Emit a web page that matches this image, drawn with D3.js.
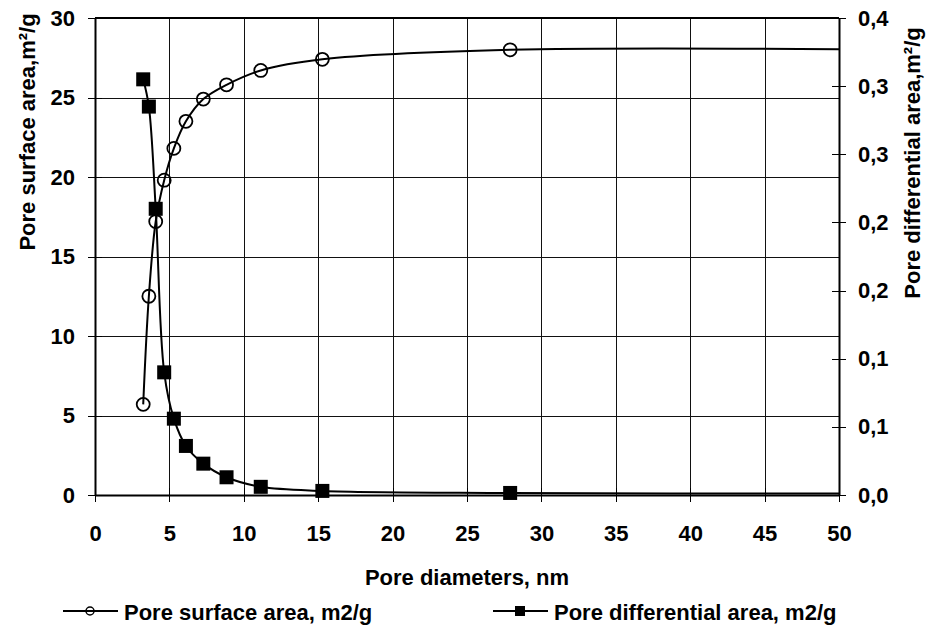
<!DOCTYPE html>
<html>
<head>
<meta charset="utf-8">
<script src="https://cdn.jsdelivr.net/npm/d3@7"></script>
<style>
  body { margin: 0; background: #fff; }
  svg { display: block; font-family: "Liberation Sans", Arial, sans-serif; font-weight: bold; }
  .grid line { stroke: #111; stroke-width: 1; shape-rendering: crispEdges; }
  .grid path { display: none; }
  .axis path { stroke: #000; stroke-width: 2; }
  .axis line { stroke: #000; stroke-width: 1; shape-rendering: crispEdges; }
  .axis text { font-size: 22px; fill: #000; }
  .label { font-size: 22px; fill: #000; }
</style>
</head>
<body>
<svg id="chart" width="931" height="625"></svg>
<script>
// pore diameters (nm); the last point lies past the axis end and is clipped like in the original
var diameters = [3.24, 3.62, 4.08, 4.65, 5.30, 6.11, 7.28, 8.84, 11.14, 15.28, 27.9, 52];
var surfaceArea = [5.7, 12.5, 17.2, 19.8, 21.8, 23.5, 24.9, 25.8, 26.7, 27.4, 28.0, 28.02];
var diffArea = [0.305, 0.285, 0.210, 0.090, 0.056, 0.036, 0.023, 0.013, 0.006, 0.003, 0.0015, 0.001];

var xTicks = [0, 5, 10, 15, 20, 25, 30, 35, 40, 45, 50];
var leftTicks = [0, 5, 10, 15, 20, 25, 30];
var rightTicks = [0, 0.05, 0.1, 0.15, 0.2, 0.25, 0.3, 0.35];
var rightTickLabels = ["0,0", "0,1", "0,1", "0,2", "0,2", "0,3", "0,3", "0,4"];

initChart();

function initChart() {
	var svg = d3.select("#chart"),
		width = 931,
		height = 625,
		margins = { top: 18, right: 92, bottom: 130, left: 95 };

	var xRange = d3.scaleLinear().domain([0, 50]).range([margins.left, width - margins.right]),
		yLeft = d3.scaleLinear().domain([0, 30]).range([height - margins.bottom, margins.top]),
		yRight = d3.scaleLinear().domain([0, 0.35]).range([height - margins.bottom, margins.top]);

	var x0 = margins.left, x1 = width - margins.right,
		y0 = height - margins.bottom, y1 = margins.top;

	svg.append("clipPath").attr("id", "plot-clip")
		.append("rect")
		.attr("x", x0 - 8).attr("y", y1 - 8)
		.attr("width", x1 - x0 + 8).attr("height", y0 - y1 + 16);

	// grid
	svg.append("g")
		.attr("class", "grid")
		.attr("transform", "translate(0," + y0 + ")")
		.call(d3.axisBottom(xRange).tickValues(xTicks).tickSize(-(y0 - y1)).tickFormat(""));

	svg.append("g")
		.attr("class", "grid")
		.attr("transform", "translate(" + x0 + ",0)")
		.call(d3.axisLeft(yLeft).tickValues(leftTicks).tickSize(-(x1 - x0)).tickFormat(""));

	// axes
	var xAxis = svg.append("g")
		.attr("class", "axis")
		.attr("transform", "translate(0," + y0 + ")")
		.call(d3.axisBottom(xRange).tickValues(xTicks).tickSizeOuter(0));
	xAxis.selectAll(".tick line").attr("y1", -7).attr("y2", 7);
	xAxis.selectAll(".tick text").attr("y", 46).attr("dy", 0);

	var yAxisL = svg.append("g")
		.attr("class", "axis")
		.attr("transform", "translate(" + x0 + ",0)")
		.call(d3.axisLeft(yLeft).tickValues(leftTicks).tickSizeOuter(0));
	yAxisL.selectAll(".tick line").attr("x1", -7).attr("x2", 7);
	yAxisL.selectAll(".tick text").attr("x", -20);

	var yAxisR = svg.append("g")
		.attr("class", "axis")
		.attr("transform", "translate(" + x1 + ",0)")
		.call(d3.axisRight(yRight).tickValues(rightTicks)
			.tickFormat(function (d, i) { return rightTickLabels[i]; })
			.tickSizeOuter(0));
	yAxisR.selectAll(".tick line").attr("x1", -7).attr("x2", 7);
	yAxisR.selectAll(".tick text").attr("x", 19);

	// top border
	svg.append("line")
		.attr("x1", x0).attr("x2", x1)
		.attr("y1", y1).attr("y2", y1)
		.attr("stroke", "#000").attr("stroke-width", 2);

	var points = diameters.map(function (d, i) {
		return { x: d, s: surfaceArea[i], a: diffArea[i] };
	});

	var plot = svg.append("g").attr("clip-path", "url(#plot-clip)");

	var surfLine = d3.line()
		.x(function (d) { return xRange(d.x); })
		.y(function (d) { return yLeft(d.s); })
		.curve(d3.curveCatmullRom.alpha(0.5));

	var diffLine = d3.line()
		.x(function (d) { return xRange(d.x); })
		.y(function (d) { return yRight(d.a); })
		.curve(d3.curveCatmullRom.alpha(0.5));

	plot.append("path")
		.attr("d", surfLine(points))
		.attr("fill", "none").attr("stroke", "#000").attr("stroke-width", 2);

	plot.append("path")
		.attr("d", diffLine(points))
		.attr("fill", "none").attr("stroke", "#000").attr("stroke-width", 2);

	var inside = points.filter(function (d) { return d.x <= 50; });

	plot.selectAll("circle.pt")
		.data(inside)
		.enter().append("circle")
		.attr("class", "pt")
		.attr("cx", function (d) { return xRange(d.x); })
		.attr("cy", function (d) { return yLeft(d.s); })
		.attr("r", 6.5)
		.attr("fill", "none").attr("stroke", "#000").attr("stroke-width", 1.8);

	plot.selectAll("rect.pt")
		.data(inside)
		.enter().append("rect")
		.attr("class", "pt")
		.attr("x", function (d) { return xRange(d.x) - 7; })
		.attr("y", function (d) { return yRight(d.a) - 7; })
		.attr("width", 14).attr("height", 14)
		.attr("fill", "#000");

	// axis titles
	svg.append("text")
		.attr("class", "label")
		.attr("text-anchor", "middle")
		.attr("x", (x0 + x1) / 2)
		.attr("y", 585)
		.text("Pore diameters, nm");

	svg.append("text")
		.attr("class", "label")
		.attr("text-anchor", "middle")
		.attr("transform", "translate(35,132) rotate(-90)")
		.text("Pore surface area,m²/g");

	svg.append("text")
		.attr("class", "label")
		.attr("text-anchor", "middle")
		.attr("transform", "translate(920,163) rotate(-90)")
		.text("Pore differential area,m²/g");

	// legend
	var legend = svg.append("g").attr("transform", "translate(0,611)");

	legend.append("line").attr("x1", 63).attr("x2", 118).attr("y1", 0).attr("y2", 0)
		.attr("stroke", "#000").attr("stroke-width", 2);
	legend.append("circle").attr("cx", 90).attr("cy", 0).attr("r", 4)
		.attr("fill", "none").attr("stroke", "#000").attr("stroke-width", 1.5);
	legend.append("text").attr("class", "label").attr("x", 124).attr("y", 9)
		.text("Pore surface area, m2/g");

	legend.append("line").attr("x1", 493).attr("x2", 548).attr("y1", 0).attr("y2", 0)
		.attr("stroke", "#000").attr("stroke-width", 2);
	legend.append("rect").attr("x", 515).attr("y", -5).attr("width", 10).attr("height", 10)
		.attr("fill", "#000");
	legend.append("text").attr("class", "label").attr("x", 554).attr("y", 9)
		.text("Pore differential area, m2/g");
}
</script>
</body>
</html>
